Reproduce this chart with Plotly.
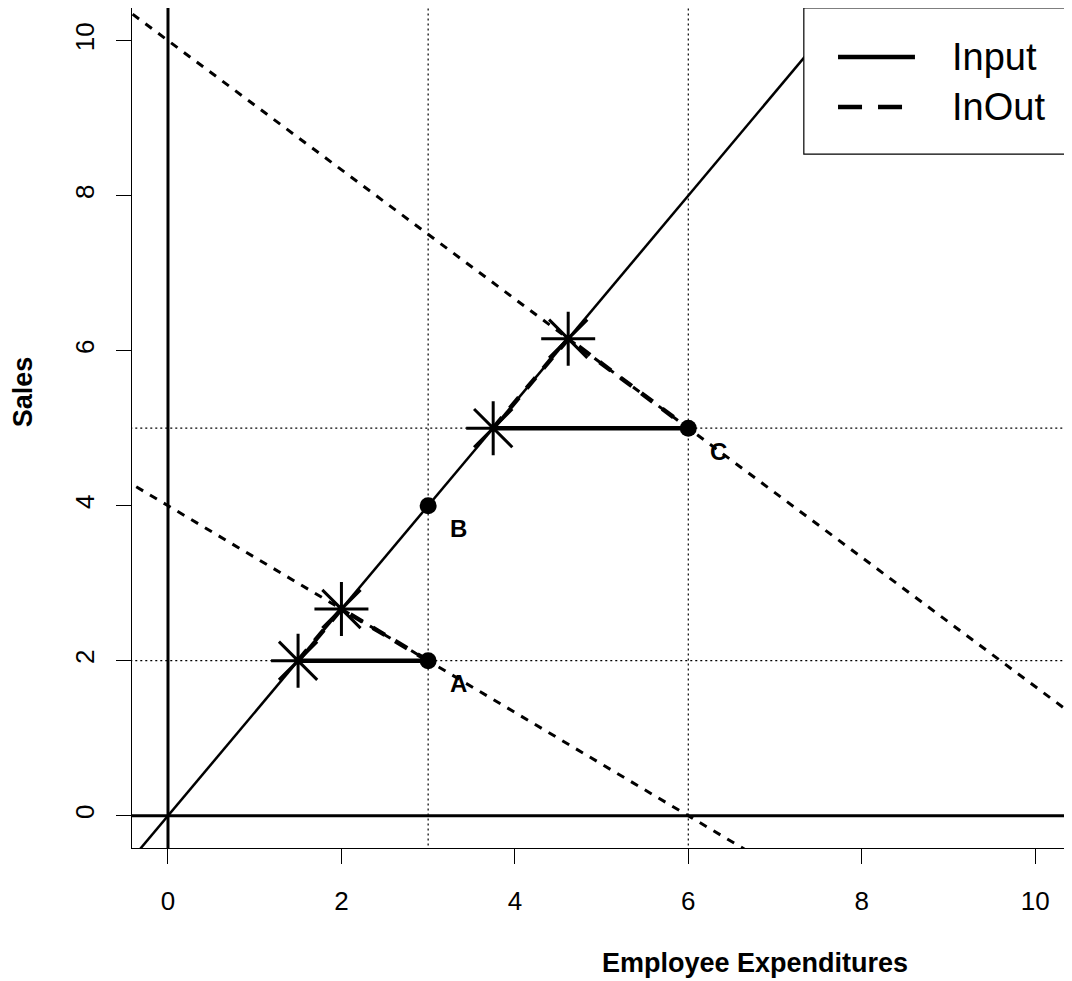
import plotly.graph_objects as go

# ---- data ----
input_line_x = [-1.0, 8.0]
input_line_y = [-1.3333, 10.6667]
budget_low_x = [-1.0, 7.0]
budget_low_y = [4.6667, -0.6667]
budget_high_x = [-1.0, 11.0]
budget_high_y = [10.8333, 0.8333]
grid_x = [3, 6]
grid_y = [2, 5]
pts_x = [3, 3, 6]
pts_y = [2, 4, 5]
pts_labels = ["A", "B", "C"]
star_x = [1.5, 2.0, 3.75, 4.615]
star_y = [2.0, 2.667, 5.0, 6.154]
input_seg1_x = [1.5, 3.0]
input_seg1_y = [2.0, 2.0]
input_seg2_x = [3.75, 6.0]
input_seg2_y = [5.0, 5.0]
inout_seg1_x = [1.5, 2.0, 3.0]
inout_seg1_y = [2.0, 2.667, 2.0]
inout_seg2_x = [3.75, 4.615, 6.0]
inout_seg2_y = [5.0, 6.154, 5.0]
tick_vals = [0, 2, 4, 6, 8, 10]
legend_labels = ["Input", "InOut"]

FONT = "Liberation Sans, Arial, sans-serif"
XR = [-0.415, 10.39]
YR = [-0.416, 10.42]

fig = go.Figure()

def line(x, y, width, dash="solid", color="black"):
    fig.add_trace(go.Scatter(x=x, y=y, mode="lines", showlegend=False,
                             hoverinfo="skip",
                             line=dict(color=color, width=width, dash=dash)))

# axes through origin
line([0, 0], [YR[0] - 1, YR[1] + 1], 3)
line([XR[0] - 1, XR[1] + 1], [0, 0], 3)
# grid reference lines
for gx in grid_x:
    line([gx, gx], [YR[0] - 1, YR[1] + 1], 1.2, dash="2px,3px")
for gy in grid_y:
    line([XR[0] - 1, XR[1] + 1], [gy, gy], 1.2, dash="2px,3px")
# budget lines
line(budget_low_x, budget_low_y, 3, dash="8px,8px")
line(budget_high_x, budget_high_y, 3, dash="8px,8px")
# input line
line(input_line_x, input_line_y, 2.5)
# input segments
line(input_seg1_x, input_seg1_y, 4.5)
line(input_seg2_x, input_seg2_y, 4.5)
# inout segments
line(inout_seg1_x, inout_seg1_y, 4.5, dash="14px,12px")
line(inout_seg2_x, inout_seg2_y, 4.5, dash="14px,12px")
# points
fig.add_trace(go.Scatter(x=pts_x, y=pts_y, mode="markers", showlegend=False,
                         marker=dict(symbol="circle", size=17, color="black")))
# stars
fig.add_trace(go.Scatter(x=star_x, y=star_y, mode="markers", showlegend=False,
                         marker=dict(symbol="asterisk-open", size=45, color="black",
                                     line=dict(color="black", width=3))))

annotations = []
for px, py, lab in zip(pts_x, pts_y, pts_labels):
    annotations.append(dict(x=px, y=py, text="<b>" + lab + "</b>", showarrow=False,
                            xshift=30, yshift=-23, xanchor="center", yanchor="middle",
                            font=dict(family=FONT, size=24, color="black")))

annotations.append(dict(xref="paper", yref="paper", x=0.665, y=-0.1369,
                        xanchor="center", yanchor="middle",
                        text="<b>Employee Expenditures</b>", showarrow=False,
                        font=dict(family=FONT, size=27, color="black")))
annotations.append(dict(xref="paper", yref="paper", x=-0.1169, y=0.543,
                        xanchor="center", yanchor="middle",
                        text="<b>Sales</b>", showarrow=False, textangle=-90,
                        font=dict(family=FONT, size=27, color="black")))

# legend (manual, R-style)
shapes = [
    dict(type="rect", xref="paper", yref="paper", x0=0.717, x1=1.0, y0=0.826, y1=1.0,
         line=dict(color="black", width=1.2), fillcolor="white", layer="above"),
    dict(type="line", xref="paper", yref="paper", x0=0.7535, x1=0.8356, y0=0.9417, y1=0.9417,
         line=dict(color="black", width=4.5), layer="above"),
    dict(type="line", xref="paper", yref="paper", x0=0.7535, x1=0.8356, y0=0.8821, y1=0.8821,
         line=dict(color="black", width=4.5, dash="24px,16px"), layer="above"),
]
for lab, ly in zip(legend_labels, [0.9417, 0.8821]):
    annotations.append(dict(xref="paper", yref="paper", x=0.873, y=ly, xanchor="left",
                            yanchor="middle", text=lab, showarrow=False,
                            font=dict(family=FONT, size=38, color="black")))

axis_common = dict(showgrid=False, zeroline=False, showline=True, linecolor="black",
                   linewidth=1.2, mirror=True, ticks="outside", ticklen=15, tickwidth=1.2,
                   tickcolor="black", tickvals=tick_vals, automargin=False,
                   tickfont=dict(family=FONT, size=26, color="black"))

# page body has an 8px default margin, so the figure is sized to fit the window
fig.update_layout(
    width=1064, height=973,
    margin=dict(l=124, r=3, t=0, b=133),
    paper_bgcolor="white", plot_bgcolor="white",
    showlegend=False,
    xaxis=dict(range=XR, ticklabelstandoff=15, **axis_common),
    yaxis=dict(range=YR, tickangle=-90, ticklabelstandoff=12, **axis_common),
    annotations=annotations,
    shapes=shapes,
)

fig.write_html("out.html")
